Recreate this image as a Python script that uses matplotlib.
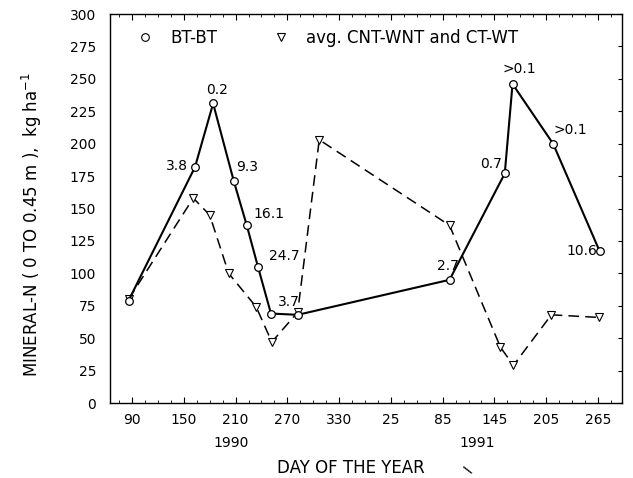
import matplotlib
matplotlib.use("Agg")
import matplotlib.pyplot as plt
from matplotlib.lines import Line2D
import numpy as np

# BT-BT series (circles), day of year + year
bt_doy = [86, 163, 184, 208, 223, 236, 251, 282, 93, 157, 166, 213, 267]
bt_year = [1990, 1990, 1990, 1990, 1990, 1990, 1990, 1990, 1991, 1991, 1991, 1991, 1991]
bt_n = [79, 182, 231, 171, 137, 105, 69, 68, 95, 177, 246, 200, 117]
bt_notes = ['', '3.8', '0.2', '9.3', '16.1', '24.7', '3.7', '', '2.7', '0.7', '>0.1', '>0.1', '10.6']

# avg. CNT-WNT and CT-WT series (triangles)
avg_doy = [86, 161, 180, 202, 234, 252, 282, 307, 93, 152, 167, 211, 266]
avg_year = [1990, 1990, 1990, 1990, 1990, 1990, 1990, 1990, 1991, 1991, 1991, 1991, 1991]
avg_n = [80, 158, 145, 100, 74, 47, 70, 203, 137, 43, 29, 68, 66]

tick_days = [90, 150, 210, 270, 330, 390, 450, 510, 570, 630]
tick_labels = ['90', '150', '210', '270', '330', '25', '85', '145', '205', '265']

bt_x = np.array(bt_doy) + 365 * (np.array(bt_year) - 1990)
avg_x = np.array(avg_doy) + 365 * (np.array(avg_year) - 1990)

fig = plt.figure(figsize=(6.33, 4.78), dpi=100)
ax = fig.add_axes([0.1738, 0.1569, 0.809, 0.8138])

ax.plot(avg_x, avg_n, color='black', lw=1.1, dashes=(7, 4), marker='v',
        ms=5.5, mfc='white', mec='black', mew=0.8, zorder=2)
ax.plot(bt_x, bt_n, color='black', lw=1.5, marker='o', ms=5.5,
        mfc='white', mec='black', mew=0.9, zorder=3)

# note offsets (points) for each labelled circle
offsets = {1: (-5, 1, 'right'), 2: (3, 10, 'center'), 3: (2, 10, 'left'),
           4: (5, 8, 'left'), 5: (8, 8, 'left'), 6: (5, 8, 'left'),
           8: (-9, 10, 'left'), 9: (-2, 7, 'right'), 10: (5, 11, 'center'),
           11: (0, 10, 'left'), 12: (-2, 0, 'right')}
for i, note in enumerate(bt_notes):
    if note == '':
        continue
    dx, dy, ha = offsets[i]
    ax.annotate(note, (bt_x[i], bt_n[i]), xytext=(dx, dy), textcoords='offset points',
                ha=ha, va='center', fontsize=10)

ax.set_xlim(64.5, 658)
ax.set_ylim(0, 300)
ax.set_xticks(tick_days)
ax.set_xticklabels(tick_labels, fontsize=10)
ax.set_xticks(np.arange(75, 658, 15), minor=True)
ax.set_yticks(np.arange(0, 301, 25))
ax.tick_params(axis='y', labelsize=10, direction='in', left=False, right=True,
               labelleft=True, length=3, pad=10)
ax.tick_params(axis='x', which='major', direction='in', length=4, top=True, pad=7)
ax.tick_params(axis='x', which='minor', direction='in', length=2.5, top=True)

for s in ax.spines.values():
    s.set_linewidth(1.0)

ax.text(205, -0.103, '1990', transform=ax.get_xaxis_transform(), ha='center', va='center', fontsize=10)
ax.text(490, -0.103, '1991', transform=ax.get_xaxis_transform(), ha='center', va='center', fontsize=10)

ax.set_xlabel('DAY OF THE YEAR', fontsize=12)
ax.xaxis.set_label_coords(0.47, -0.145)
ax.text(0.70, -0.17, '\\', transform=ax.transAxes, rotation=35, fontsize=9,
        fontweight='bold', ha='center', va='center')

ax.set_ylabel('MINERAL-N ( 0 TO 0.45 m ),  kg ha$^{-1}$', fontsize=12, va='center')
ax.yaxis.set_label_coords(-0.152, 0.458)

handles = [Line2D([], [], ls='none', marker='o', ms=5.5, mfc='white', mec='black', mew=0.8),
           Line2D([], [], ls='none', marker='v', ms=5.5, mfc='white', mec='black', mew=0.8)]
ax.legend(handles, ['BT-BT', 'avg. CNT-WNT and CT-WT'], ncol=2, loc='center left',
          bbox_to_anchor=(0.0527, 0.938), frameon=False, fontsize=12, handlelength=1.0,
          handletextpad=1.0, columnspacing=3.3, borderpad=0, borderaxespad=0)

fig.savefig('out.png', dpi=100)
